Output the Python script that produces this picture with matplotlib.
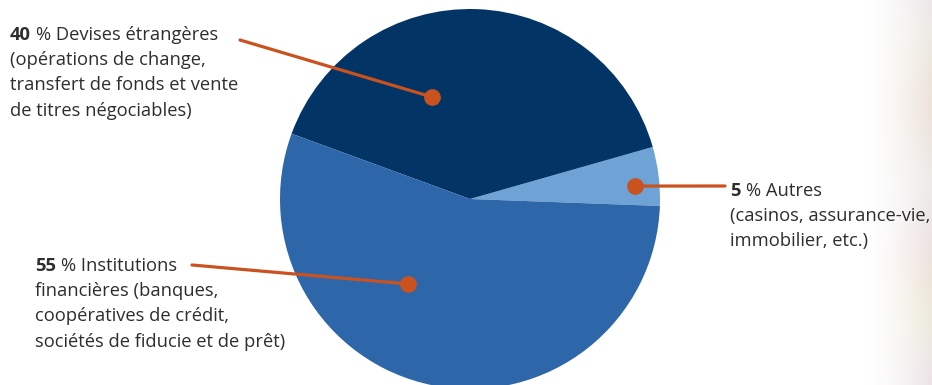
import matplotlib
matplotlib.use("Agg")
import matplotlib.pyplot as plt
import numpy as np

# ---- data ----
categories = ["Autres", "Devises étrangères", "Institutions financières"]
shares = [5, 40, 55]
colors = ["#6FA3D5", "#023466", "#2E66AA"]
pct_labels = ["5", "40", "55"]
label_lines = [
    ["% Autres", "(casinos, assurance-vie,", "immobilier, etc.)"],
    ["% Devises étrangères", "(opérations de change,",
     "transfert de fonds et vente", "de titres négociables)"],
    ["% Institutions", "financières (banques,",
     "coopératives de crédit,", "sociétés de fiducie et de prêt)"],
]

W, H = 932, 385
ORANGE = "#C9521E"
TXT = "#2E2E2E"
FONT = "Open Sans"
FS = 13.2

fig = plt.figure(figsize=(W / 100, H / 100), dpi=100)
fig.patch.set_facecolor("white")

# faint background (faded photo on the right edge)
bg = fig.add_axes([0, 0, 1, 1], zorder=0)
bg.axis("off")
xs = np.arange(W)
ys = np.arange(H)
X, Y = np.meshgrid(xs, ys)
img = np.ones((H, W, 4))
img[..., 0] = 0.90
img[..., 1] = 0.86 + 0.02 * np.sin(Y / 23.0)
img[..., 2] = 0.83 + 0.04 * np.cos(Y / 31.0)
alpha = np.clip((X - 868) / 64.0, 0, 1) ** 1.3 * 0.7
img[..., 3] = alpha
bg.imshow(img, extent=[0, 1, 0, 1], aspect="auto", interpolation="bilinear")
bg.set_xlim(0, 1)
bg.set_ylim(0, 1)

# ---- pie ----
cx, cy, R = 470, 199, 190
ax = fig.add_axes([(cx - R) / W, (H - cy - R) / H, 2 * R / W, 2 * R / H], zorder=1)
ax.pie(shares, colors=colors, startangle=-2.1, counterclock=True, radius=1,
       wedgeprops=dict(linewidth=0))
ax.set_xlim(-1, 1)
ax.set_ylim(-1, 1)
ax.set_aspect("equal")
ax.axis("off")

def fig_px(px, py):
    return px / W, 1 - py / H

# leader lines: (dot position in pie units, line end in pixels)
dots = [(0.868, 0.068), (-0.20, 0.537), (-0.326, -0.447)]
ends = [(725, 186), (240, 40), (192, 265)]
for (dx, dy), (ex, ey) in zip(dots, ends):
    ax.annotate("", xy=(dx, dy), xycoords="data",
                xytext=fig_px(ex, ey), textcoords="figure fraction",
                arrowprops=dict(arrowstyle="-", color=ORANGE, lw=2.3,
                                shrinkA=0, shrinkB=0),
                annotation_clip=False)
    ax.plot([dx], [dy], "o", color=ORANGE, markersize=11, clip_on=False, zorder=5)

# ---- text blocks ----
blocks = [(730, 196), (10, 40), (35, 271)]
pitch = 25.2
renderer = fig.canvas.get_renderer()
for (x0, y0), num, lines in zip(blocks, pct_labels, label_lines):
    t = fig.text(*fig_px(x0, y0), num, fontsize=FS, fontweight="bold",
                 family=FONT, color=TXT, va="baseline", ha="left")
    bb = t.get_window_extent(renderer)
    fig.text((bb.x1 + 5) / W, 1 - y0 / H, lines[0], fontsize=FS, family=FONT,
             color=TXT, va="baseline", ha="left")
    for i, ln in enumerate(lines[1:], start=1):
        fig.text(*fig_px(x0, y0 + i * pitch), ln, fontsize=FS, family=FONT,
                 color=TXT, va="baseline", ha="left")

fig.savefig("out.png", dpi=100, facecolor="white")
